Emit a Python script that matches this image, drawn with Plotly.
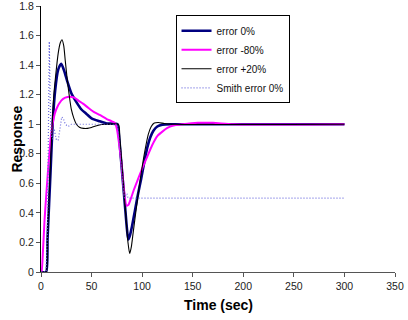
import plotly.graph_objects as go

# ---- data ----
t_err0 = [0, 5, 6.5, 8, 9.5, 11.5, 14, 17, 20, 23, 26, 30, 35, 40, 45, 50, 58, 65, 75.5,
          77, 79, 81, 83, 85, 86.3, 87.8, 90, 93, 96, 99, 102, 105, 108, 111, 115, 120, 130, 200, 300]
y_err0 = [0, 0, 0.23, 0.46, 0.69, 1.0, 1.23, 1.37, 1.41, 1.36, 1.29, 1.21, 1.15, 1.10, 1.07, 1.04, 1.02, 1.005, 1.0,
          0.93, 0.77, 0.61, 0.45, 0.29, 0.22, 0.245, 0.31, 0.42, 0.53, 0.63, 0.74, 0.84, 0.91, 0.955, 0.985, 0.997, 1.0, 1.0, 1.0]

t_err_m80 = [0, 0.5, 2, 3.5, 5.5, 8, 10, 12.5, 15, 20, 24, 28.7, 33, 37, 41.5, 47, 53, 58, 65, 70, 73,
             75, 77, 79.5, 82, 84.5, 86.5, 89, 92, 96, 100, 105, 110, 115, 120, 125, 130, 140, 155, 170, 190, 300]
y_err_m80 = [0, 0, 0.15, 0.35, 0.55, 0.78, 0.93, 1.04, 1.10, 1.16, 1.18, 1.187, 1.18, 1.16, 1.14, 1.11, 1.08, 1.063, 1.035, 1.02, 1.01,
             0.97, 0.88, 0.74, 0.56, 0.45, 0.455, 0.50, 0.56, 0.63, 0.70, 0.78, 0.86, 0.92, 0.95, 0.975, 0.99, 1.0, 1.01, 1.01, 1.0, 1.0]

t_err_p20 = [0, 5, 6.5, 8, 9.5, 11, 12.5, 14.5, 17, 19, 20.8, 22.5, 24, 26, 28, 30, 32.5, 35, 38, 42, 46, 50, 55, 60, 65, 76.5,
             78, 80, 82, 84, 86, 87.7, 89.3, 91, 94, 97, 100, 103, 106, 109, 112, 116, 122, 130, 300]
y_err_p20 = [0, 0, 0.24, 0.5, 0.76, 0.99, 1.18, 1.33, 1.48, 1.55, 1.572, 1.53, 1.43, 1.30, 1.19, 1.10, 1.04, 1.0, 0.98, 0.972, 0.972, 0.978, 0.99, 0.998, 1.0, 1.0,
             0.9, 0.73, 0.55, 0.37, 0.2, 0.125, 0.17, 0.26, 0.42, 0.57, 0.71, 0.83, 0.93, 0.985, 1.008, 1.012, 1.005, 1.0, 1.0]

t_smith = [0, 5, 6.5, 7.5, 8.2, 9, 10, 11.5, 13, 15, 17, 19, 20.5, 22, 24, 27, 30, 40, 75.5,
           77, 79, 81, 82.5, 84, 85, 86, 88, 300]
y_smith = [0, 0, 0.35, 0.85, 1.56, 1.2, 0.93, 0.9, 0.97, 0.9, 0.89, 0.98, 1.05, 1.04, 1.0, 0.985, 1.0, 1.0, 1.0,
           0.9, 0.73, 0.58, 0.5, 0.52, 0.53, 0.5, 0.5, 0.5]

x_ticks = [0, 50, 100, 150, 200, 250, 300, 350]
y_ticks = [0, 0.2, 0.4, 0.6, 0.8, 1, 1.2, 1.4, 1.6, 1.8]
y_tick_text = ["0", "0.2", "0.4", "0.6", "0.8", "1", "1.2", "1.4", "1.6", "1.8"]

FONT = "Arial, Liberation Sans, sans-serif"

fig = go.Figure()
fig.add_trace(go.Scatter(x=t_err0, y=y_err0, mode="lines", name="error 0%",
                         line=dict(color="#000080", width=2.6, shape="spline", smoothing=0.6)))
fig.add_trace(go.Scatter(x=t_err_m80, y=y_err_m80, mode="lines", name="error -80%",
                         line=dict(color="#FF00FF", width=2.0, shape="spline", smoothing=0.6)))
fig.add_trace(go.Scatter(x=t_err_p20, y=y_err_p20, mode="lines", name="error +20%",
                         line=dict(color="#000000", width=1.1, shape="spline", smoothing=0.6)))
fig.add_trace(go.Scatter(x=t_smith, y=y_smith, mode="lines", name="Smith error 0%",
                         line=dict(color="#6A6ADD", width=1.2, dash="1px,2px")))

fig.update_layout(
    width=408, height=320, autosize=False,
    margin=dict(l=41, r=13, t=6, b=48),
    paper_bgcolor="white", plot_bgcolor="white",
    font=dict(family=FONT, size=10.5, color="#222"),
    showlegend=True,
    legend=dict(x=0.38, y=0.965, xanchor="left", yanchor="top",
                bgcolor="white", bordercolor="#000", borderwidth=1,
                font=dict(family=FONT, size=10, color="#111"),
                itemwidth=30, tracegroupgap=0),
    xaxis=dict(range=[0, 350], tickvals=x_ticks, showgrid=False, zeroline=False,
               showline=True, linecolor="#555", linewidth=1,
               ticks="outside", ticklen=4, tickcolor="#555",
               ticklabeloverflow="allow", automargin=False),
    yaxis=dict(range=[0, 1.8005], tickvals=y_ticks, ticktext=y_tick_text,
               showgrid=False, zeroline=False,
               showline=True, linecolor="#000", linewidth=1,
               ticks="outside", ticklen=4, tickcolor="#555",
               ticklabeloverflow="allow", automargin=False),
    annotations=[
        dict(text="<b>Time (sec)</b>", xref="paper", yref="paper", x=0.5, y=-0.123,
             xanchor="center", yanchor="middle", showarrow=False,
             font=dict(family=FONT, size=14, color="#000")),
        dict(text="<b>Response</b>", xref="paper", yref="paper", x=-0.069, y=0.5,
             xanchor="center", yanchor="middle", showarrow=False, textangle=-90,
             font=dict(family=FONT, size=14, color="#000")),
    ],
)

fig.write_html("out.html")
